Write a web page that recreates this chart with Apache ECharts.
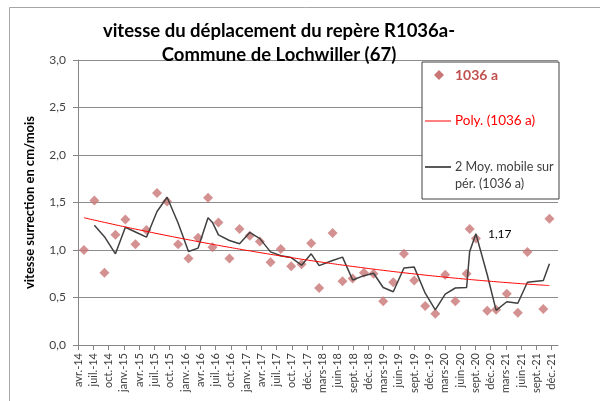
<!DOCTYPE html>
<html>
<head>
<meta charset="utf-8">
<script src="https://cdn.jsdelivr.net/npm/echarts@6/dist/echarts.min.js"></script>
<style>
  html, body { margin: 0; padding: 0; background: #fff; }
  #chart { width: 600px; height: 401px; }
</style>
</head>
<body>
<div id="chart"></div>
<script>
// tick labels of the date axis (one every quarter)
const tickLabels = [
  "avr.-14", "juil.-14", "oct.-14", "janv.-15", "avr.-15", "juil.-15", "oct.-15",
  "janv.-16", "avr.-16", "juil.-16", "oct.-16", "janv.-17", "avr.-17", "juil.-17",
  "oct.-17", "déc.-17", "mars-18", "juin-18", "sept.-18", "déc.-18", "mars-19",
  "juin-19", "sept.-19", "déc.-19", "mars-20", "juin-20", "sept.-20", "déc.-20",
  "mars-21", "juin-21", "sept.-21", "déc.-21"
];

// measure dates, in tick steps from avr.-14
const xPos = [
  0.39, 1.07, 1.73, 2.45, 3.10, 3.76, 4.48, 5.17, 5.83, 6.55, 7.23, 7.86,
  8.51, 8.80, 9.19, 9.91, 10.57, 11.24, 11.90, 12.60, 13.27, 13.95, 14.63, 15.26,
  15.78, 16.66, 17.31, 17.97, 18.71, 19.34, 19.97, 20.63, 21.33, 22.00, 22.72, 23.38,
  24.03, 24.69, 25.43, 25.63, 26.04, 26.78, 27.36, 28.06, 28.78, 29.41, 30.45, 30.85
];

// vitesse (cm/mois), repère 1036 a
const speed = [
  1.00, 1.52, 0.76, 1.16, 1.32, 1.06, 1.21, 1.60, 1.51, 1.06, 0.91, 1.13,
  1.55, 1.03, 1.29, 0.91, 1.22, 1.15, 1.09, 0.87, 1.01, 0.83, 0.85, 1.07,
  0.60, 1.18, 0.67, 0.70, 0.76, 0.75, 0.46, 0.66, 0.96, 0.68, 0.41, 0.33,
  0.74, 0.46, 0.75, 1.22, 1.12, 0.36, 0.37, 0.54, 0.34, 0.98, 0.38, 1.33
];

const seriesName = "1036 a";
const labelIndex = 40; // point labelled on the moving average

// 2-period moving average, like Excel
const movingAvg = [];
for (let i = 1; i < speed.length; i++) {
  movingAvg.push([xPos[i], (speed[i - 1] + speed[i]) / 2]);
}

// polynomial (order 2) trend line, least squares
function polyFit(xs, ys) {
  let s = [0, 0, 0, 0, 0], t = [0, 0, 0];
  for (let i = 0; i < xs.length; i++) {
    let p = 1;
    for (let k = 0; k < 5; k++) { s[k] += p; if (k < 3) t[k] += p * ys[i]; p *= xs[i]; }
  }
  const m = [[s[0], s[1], s[2], t[0]], [s[1], s[2], s[3], t[1]], [s[2], s[3], s[4], t[2]]];
  for (let c = 0; c < 3; c++) {
    for (let r = c + 1; r < 3; r++) {
      const f = m[r][c] / m[c][c];
      for (let k = c; k < 4; k++) m[r][k] -= f * m[c][k];
    }
  }
  const a = [0, 0, 0];
  for (let r = 2; r >= 0; r--) {
    let v = m[r][3];
    for (let k = r + 1; k < 3; k++) v -= m[r][k] * a[k];
    a[r] = v / m[r][r];
  }
  return a;
}
const coef = polyFit(xPos, speed);
const trend = xPos.map(x => [x, coef[0] + coef[1] * x + coef[2] * x * x]);

const FONT = "Lato, 'Liberation Sans', sans-serif";
const dotColor = "#c97676";
const tickIdx = tickLabels.map((_, i) => i);

const chart = echarts.init(document.getElementById("chart"));
chart.setOption({
  animation: false,
  textStyle: { fontFamily: FONT },
  title: {
    text: "vitesse du déplacement du repère R1036a-\nCommune de Lochwiller (67)",
    left: 274,
    top: 14,
    textAlign: "center",
    textStyle: { fontFamily: FONT, fontSize: 18.5, fontWeight: "bold", color: "#000", lineHeight: 24 }
  },
  grid: { left: 78, right: 42, top: 60, bottom: 56 },
  xAxis: {
    type: "value",
    min: 0,
    max: 31.41,
    interval: 1,
    splitLine: { show: false },
    axisLine: { lineStyle: { color: "#868686" } },
    axisTick: { show: true, length: 5, customValues: tickIdx, lineStyle: { color: "#868686" } },
    axisLabel: {
      customValues: tickIdx,
      rotate: 90,
      margin: 8,
      fontSize: 11,
      color: "#404040",
      fontFamily: FONT,
      formatter: v => tickLabels[Math.round(v)] || ""
    }
  },
  yAxis: {
    type: "value",
    min: 0,
    max: 3,
    interval: 0.5,
    name: "vitesse surrection en cm/mois",
    nameLocation: "middle",
    nameGap: 42,
    nameTextStyle: { fontFamily: FONT, fontSize: 13, fontWeight: "bold", color: "#000" },
    axisLine: { show: true, lineStyle: { color: "#868686" } },
    axisTick: { show: true, length: 5, lineStyle: { color: "#868686" } },
    splitLine: { lineStyle: { color: "#8c8c8c", width: 1 } },
    axisLabel: {
      fontSize: 12,
      color: "#404040",
      margin: 12,
      fontFamily: FONT,
      formatter: v => v.toFixed(1).replace(".", ",")
    }
  },
  series: [
    {
      name: seriesName,
      type: "scatter",
      symbol: "diamond",
      symbolSize: 10,
      itemStyle: { color: dotColor },
      data: xPos.map((x, i) => [x, speed[i]]),
      z: 2
    },
    {
      name: "2 Moy. mobile sur pér. (1036 a)",
      type: "line",
      showSymbol: true,
      symbol: "circle",
      symbolSize: 0,
      itemStyle: { color: "#404040" },
      lineStyle: { color: "#404040", width: 1.5 },
      data: movingAvg.map((p, i) => i + 1 === labelIndex
        ? { value: p, label: {
            show: true, position: "right", distance: 12, fontSize: 12, color: "#000",
            fontFamily: FONT,
            formatter: d => d.value[1].toFixed(2).replace(".", ",")
          } }
        : p),
      z: 3
    },
    {
      name: "Poly. (1036 a)",
      type: "line",
      smooth: true,
      showSymbol: false,
      symbol: "none",
      lineStyle: { color: "#ff0000", width: 1 },
      data: trend,
      z: 4
    }
  ],
  graphic: [
    // outer chart frame
    { type: "rect", left: 7, top: 5, z: -10, silent: true,
      shape: { width: 640, height: 440 },
      style: { fill: null, stroke: "#a6a6a6", lineWidth: 1 } },
    // legend box
    { type: "rect", z: 10, silent: true,
      shape: { x: 422, y: 62, width: 137, height: 137 },
      style: { fill: "#fff", stroke: "#404040", lineWidth: 1 } },
    { type: "polygon", z: 11, silent: true,
      shape: { points: [[439, 70], [444, 75], [439, 80], [434, 75]] },
      style: { fill: dotColor } },
    { type: "text", z: 11, silent: true, x: 455, y: 75,
      style: { text: seriesName, fontFamily: FONT, fontSize: 14, fontWeight: "bold",
        fill: "#c0504d", verticalAlign: "middle" } },
    { type: "line", z: 11, silent: true,
      shape: { x1: 425, y1: 121, x2: 451, y2: 121 },
      style: { stroke: "#ff0000", lineWidth: 1 } },
    { type: "text", z: 11, silent: true, x: 455, y: 121,
      style: { text: "Poly. (1036 a)", fontFamily: FONT, fontSize: 13.5,
        fill: "#ff0000", verticalAlign: "middle" } },
    { type: "line", z: 11, silent: true,
      shape: { x1: 425, y1: 167, x2: 451, y2: 167 },
      style: { stroke: "#595959", lineWidth: 2 } },
    { type: "text", z: 11, silent: true, x: 455, y: 175,
      style: { text: "2 Moy. mobile sur\npér. (1036 a)", fontFamily: FONT, fontSize: 12.6,
        lineHeight: 17, fill: "#404040", verticalAlign: "middle" } }
  ]
});
</script>
</body>
</html>
